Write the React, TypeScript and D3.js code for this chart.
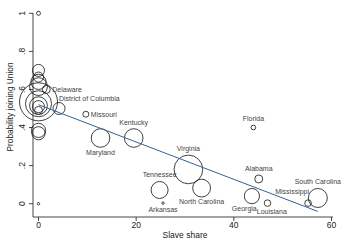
import React from 'react'
import * as d3 from 'd3'

// one entry per state; unlabeled ones are the free states at slave share 0
const states = [
  '', '', '', '', '', '', '', '', '', '', '', '', '',
  'Delaware', 'District of Columbia', 'Missouri', 'Maryland', 'Kentucky',
  'Tennessee', 'Arkansas', 'Virginia', 'North Carolina', 'Florida',
  'Georgia', 'Alabama', 'Louisiana', 'Mississippi', 'South Carolina'
]
const slaveShare = [
  0, 0, 0, 0, 0, 0, 0, 0, 0, 0, 0, 0, 0,
  1.6, 4.2, 9.7, 12.7, 19.5,
  24.8, 25.5, 30.7, 33.4, 44,
  43.7, 45.1, 46.9, 55.2, 57.2
]
const probUnion = [
  1.0, 0.0, 0.70, 0.665, 0.64, 0.615, 0.535, 0.525, 0.515, 0.51, 0.49, 0.385, 0.37,
  0.60, 0.50, 0.47, 0.345, 0.345,
  0.072, 0.003, 0.18, 0.082, 0.40,
  0.04, 0.13, 0.003, 0.003, 0.03
]
// marker weights (circle area)
const weight = [
  1.1, 0.4, 10, 7, 16, 22, 100, 47, 22, 10, 4.4, 14, 12,
  4.4, 10, 2.5, 24, 24,
  20, 0.4, 57, 22, 1.5,
  16, 4.4, 3, 3, 25
]
// marker label clock positions (0 = none)
const labelPos = [
  0, 0, 0, 0, 0, 0, 0, 0, 0, 0, 0, 0, 0,
  3, 1, 3, 6, 12,
  12, 6, 12, 6, 12,
  7, 12, 5, 11, 12
]

const fitIntercept = 0.52
const fitSlope = -0.0098
const fitRange = [0, 57.2]

const xTicks = [0, 20, 40, 60]
const yTicks = [0, 0.2, 0.4, 0.6, 0.8, 1]
const yTickLabels = ['0', '.2', '.4', '.6', '.8', '1']

const W = 345
const H = 250
const font = 'Liberation Sans, Arial, sans-serif'

function placeLabel(pos: number, cx: number, cy: number, r: number) {
  if (pos === 3) return { x: cx + r + 2, y: cy + 2.5, anchor: 'start' }
  if (pos === 1) return { x: cx, y: cy - r - 1, anchor: 'start' }
  if (pos === 12) return { x: cx, y: cy - r - 4, anchor: 'middle' }
  if (pos === 6) return { x: cx, y: cy + r + 7.5, anchor: 'middle' }
  if (pos === 5) return { x: cx + r + 1, y: cy + r + 7.5, anchor: 'middle' }
  if (pos === 7) return { x: cx - r, y: cy + r + 7, anchor: 'middle' }
  if (pos === 11) return { x: cx + 1, y: cy - r - 6, anchor: 'end' }
  return { x: cx, y: cy, anchor: 'middle' }
}

export default function App() {
  const x = d3.scaleLinear().domain([0, 60]).range([38.5, 331.5])
  const y = d3.scaleLinear().domain([0, 1]).range([203.7, 13.3])
  const r = d3.scaleSqrt().domain([0, 100]).range([0, 19])

  const axisY = 217
  const axisX = 33

  const fit = d3.line<number>()
    .x(d => x(d))
    .y(d => y(fitIntercept + fitSlope * d))

  const points = states.map((s, i) => ({
    name: s,
    cx: x(slaveShare[i]),
    cy: y(probUnion[i]),
    r: r(weight[i]),
    pos: labelPos[i]
  }))

  return (
    <svg width={W} height={H} style={{ position: 'absolute', left: 0, top: 0, background: '#fff' }}
      fontFamily={font}>
      {/* axes */}
      <line x1={axisX} x2={axisX} y1={13} y2={axisY} stroke="#333" strokeWidth={0.9} />
      <line x1={axisX} x2={333} y1={axisY} y2={axisY} stroke="#333" strokeWidth={0.9} />
      {yTicks.map((t, i) => (
        <g key={'yt' + i}>
          <line x1={axisX - 4} x2={axisX} y1={y(t)} y2={y(t)} stroke="#333" strokeWidth={0.9} />
          <text transform={`translate(25,${y(t)}) rotate(-90)`} textAnchor="middle"
            fontSize={8.5} fill="#222">{yTickLabels[i]}</text>
        </g>
      ))}
      {xTicks.map((t, i) => (
        <g key={'xt' + i}>
          <line x1={x(t)} x2={x(t)} y1={axisY} y2={axisY + 4} stroke="#333" strokeWidth={0.9} />
          <text x={x(t)} y={227.5} textAnchor="middle" fontSize={8.5} fill="#222">{t}</text>
        </g>
      ))}
      <text x={185} y={238} textAnchor="middle" fontSize={8.5} fill="#222">Slave share</text>
      <text transform="translate(13,107) rotate(-90)" textAnchor="middle" fontSize={8.3}
        fill="#222">Probability joining Union</text>

      {/* markers */}
      {points.map((p, i) => (
        <circle key={'c' + i} cx={p.cx} cy={p.cy} r={Math.max(p.r, 1)}
          fill="none" stroke="#111" strokeWidth={0.8} />
      ))}

      {/* fitted line */}
      <path d={fit(fitRange) || ''} fill="none" stroke="#2f6496" strokeWidth={1} />

      {/* labels */}
      {points.filter(p => p.pos > 0).map((p, i) => {
        const l = placeLabel(p.pos, p.cx, p.cy, p.r)
        return (
          <text key={'l' + i} x={l.x} y={l.y} textAnchor={l.anchor} fontSize={7}
            fill="#444">{p.name}</text>
        )
      })}
    </svg>
  )
}
